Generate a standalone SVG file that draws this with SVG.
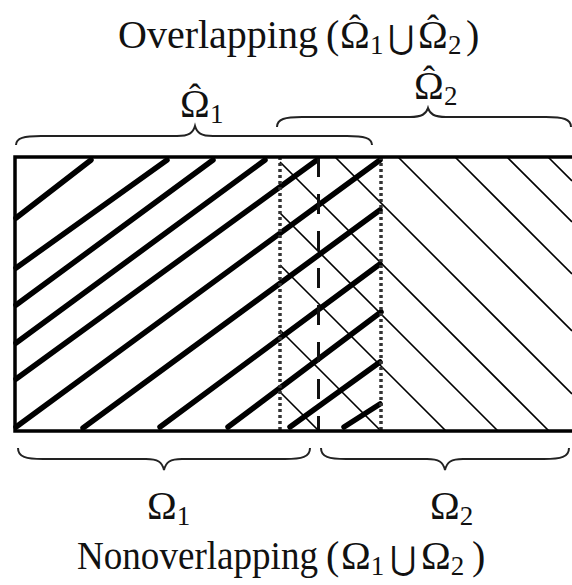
<svg xmlns="http://www.w3.org/2000/svg" width="572" height="585" viewBox="0 0 572 585">
<style>
.t{font-family:"Liberation Serif","DejaVu Serif",serif;font-size:40px;fill:#111}
.s{font-size:27px}
.cup{font-family:"DejaVu Serif",serif;font-size:32px}
.h{font-size:36px}
.thick{stroke:#000;stroke-width:5.5;stroke-linecap:round;fill:none}
.thin{stroke:#000;stroke-width:1.6;fill:none}
.brace{stroke:#222;stroke-width:2;fill:none}
.dot{stroke:#333;stroke-width:3.5;stroke-dasharray:3 3}
.dash{stroke:#111;stroke-width:3;stroke-dasharray:20 17}
.frame{stroke:#000;stroke-width:3.5;fill:none}
</style>
<defs>
<clipPath id="inside"><rect x="15" y="157" width="557" height="274"/></clipPath>
</defs>
<rect width="572" height="585" fill="#fff"/>
<g id="domain">
<g id="hatch-thin" clip-path="url(#inside)">
<path class="thin" d="M280,392L319,431 M280,330L381,431 M280,265L446,431 M280,213L498,431 M280,162L549,431 M335,157L572,394 M398,157L572,331 M455,157L572,274 M507,157L572,222 M548,157L572,181"/>
</g>
<g id="hatch-thick">
<path class="thick" d="M16,218L91,160 M16,268L167,160 M16,305L213,160 M16,343L265,160 M16,379L317,160 M16,427L380,160 M83,428L380,210 M160,427L380,264 M228,427L381,312 M290,427L380,362 M344,427L380,404"/>
</g>
<line id="overlap-left" class="dot" x1="280" y1="157" x2="280" y2="431"/>
<line id="overlap-right" class="dot" x1="381" y1="157" x2="381" y2="431"/>
<line id="interface" class="dash" x1="318.5" y1="157" x2="318.5" y2="431"/>
<path id="frame" class="frame" d="M572,157H15V431H572"/>
</g>
<g id="braces">
<path id="brace-hat1" class="brace" d="M16,145 C16,138 24,136 41,136 L177,136 C189,136 193,133 195,126 C197,133 201,136 213,136 L347,136 C364,136 372,138 372,145"/>
<path id="brace-hat2" class="brace" d="M277,127 C277,119 285,117 302,117 L410,117 C422,117 426,114 428,108 C430,114 434,117 446,117 L546,117 C563,117 571,119 571,127"/>
<path id="brace-1" class="brace" d="M18,448 C18,457 26,459 43,459 L146,459 C158,459 162,462 164,470 C166,462 170,459 182,459 L285,459 C302,459 310,457 310,448"/>
<path id="brace-2" class="brace" d="M321,448 C321,457 329,459 346,459 L427,459 C439,459 443,462 445,470 C447,462 451,459 463,459 L544,459 C561,459 569,457 569,448"/>
</g>
<g id="labels">
<text id="title-top" class="t" y="48"><tspan x="118" textLength="200" lengthAdjust="spacingAndGlyphs">Overlapping</tspan><tspan x="326">(</tspan><tspan x="340">Ω</tspan><tspan x="349" dy="-8" class="h">ˆ</tspan><tspan x="370" dy="14" class="s">1</tspan><tspan x="388" dy="-6" class="cup">⋃</tspan><tspan x="418">Ω</tspan><tspan x="427" dy="-8" class="h">ˆ</tspan><tspan x="448" dy="14" class="s">2</tspan><tspan x="466" dy="-6">)</tspan></text>
<text id="label-hat1" class="t" y="117"><tspan x="180">Ω</tspan><tspan x="189" dy="-8" class="h">ˆ</tspan><tspan x="210" dy="14" class="s">1</tspan></text>
<text id="label-hat2" class="t" y="99"><tspan x="414">Ω</tspan><tspan x="423" dy="-8" class="h">ˆ</tspan><tspan x="444" dy="14" class="s">2</tspan></text>
<text id="label-1" class="t" y="519"><tspan x="147">Ω</tspan><tspan dy="6" class="s">1</tspan></text>
<text id="label-2" class="t" y="519"><tspan x="430">Ω</tspan><tspan dy="6" class="s">2</tspan></text>
<text id="title-bottom" class="t" y="569"><tspan x="77" textLength="241" lengthAdjust="spacingAndGlyphs">Nonoverlapping</tspan><tspan x="326">(</tspan><tspan x="341">Ω</tspan><tspan dy="6" class="s">1</tspan><tspan x="390" dy="-6" class="cup">⋃</tspan><tspan x="421">Ω</tspan><tspan dy="6" class="s">2</tspan><tspan x="472" dy="-6">)</tspan></text>
</g>
</svg>
